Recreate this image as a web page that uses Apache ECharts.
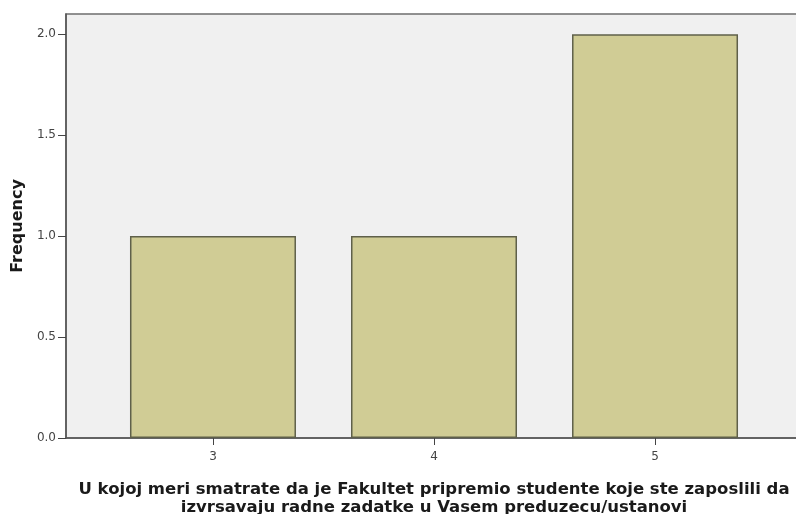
<!DOCTYPE html>
<html><head><meta charset="utf-8">
<script src="https://cdn.jsdelivr.net/npm/echarts@6/dist/echarts.min.js"></script>
<style>html,body{margin:0;padding:0;background:#fff}#c{width:796px;height:514px}</style>
</head><body><div id="c"></div>
<script>
const categories = [3, 4, 5];
const frequencies = [1, 1, 2];
const yTicks = [0, 0.5, 1.0, 1.5, 2.0];
const xTitle = 'U kojoj meri smatrate da je Fakultet pripremio studente koje ste zaposlili da\nizvrsavaju radne zadatke u Vasem preduzecu/ustanovi';
const yTitle = 'Frequency';

const chart = echarts.init(document.getElementById('c'));
chart.setOption({
  animation: false,
  grid: {left: 66, top: 14, width: 736, height: 424, outerBoundsMode: 'none', containLabel: false,
         show: true, backgroundColor: '#f0f0f0', borderColor: '#6e6e6e', borderWidth: 1.5},
  xAxis: {
    type: 'value', min: 2.335, max: 5.665,
    axisLine: {show: true, lineStyle: {color: '#555', width: 1.5}},
    axisTick: {show: true, length: 7, customValues: categories, lineStyle: {color: '#444'}},
    axisLabel: {customValues: categories, color: '#444', fontSize: 12, fontFamily: 'DejaVu Sans', margin: 13},
    splitLine: {show: false},
    name: xTitle, nameLocation: 'middle', nameGap: 43,
    nameTextStyle: {fontFamily: 'DejaVu Sans', fontWeight: 'bold', fontSize: 16.5, color: '#1a1a1a', lineHeight: 18, verticalAlign: 'top'}
  },
  yAxis: {
    type: 'value', min: 0, max: 2.1,
    axisLine: {show: true, lineStyle: {color: '#555', width: 1.5}},
    axisTick: {show: true, length: 8, customValues: yTicks, lineStyle: {color: '#444'}},
    axisLabel: {customValues: yTicks, color: '#444', fontSize: 12, fontFamily: 'DejaVu Sans', margin: 10, formatter: v => v.toFixed(1)},
    splitLine: {show: false},
    name: yTitle, nameLocation: 'middle', nameGap: 39, nameRotate: 90,
    nameTextStyle: {fontFamily: 'DejaVu Sans', fontWeight: 'bold', fontSize: 16, color: '#1a1a1a'}
  },
  series: [{
    type: 'bar', barWidth: 166,
    data: categories.map((c, i) => [c, frequencies[i]]),
    itemStyle: {color: '#d0cc95', borderColor: '#5f604a', borderWidth: 1.5}
  }]
});
</script></body></html>
